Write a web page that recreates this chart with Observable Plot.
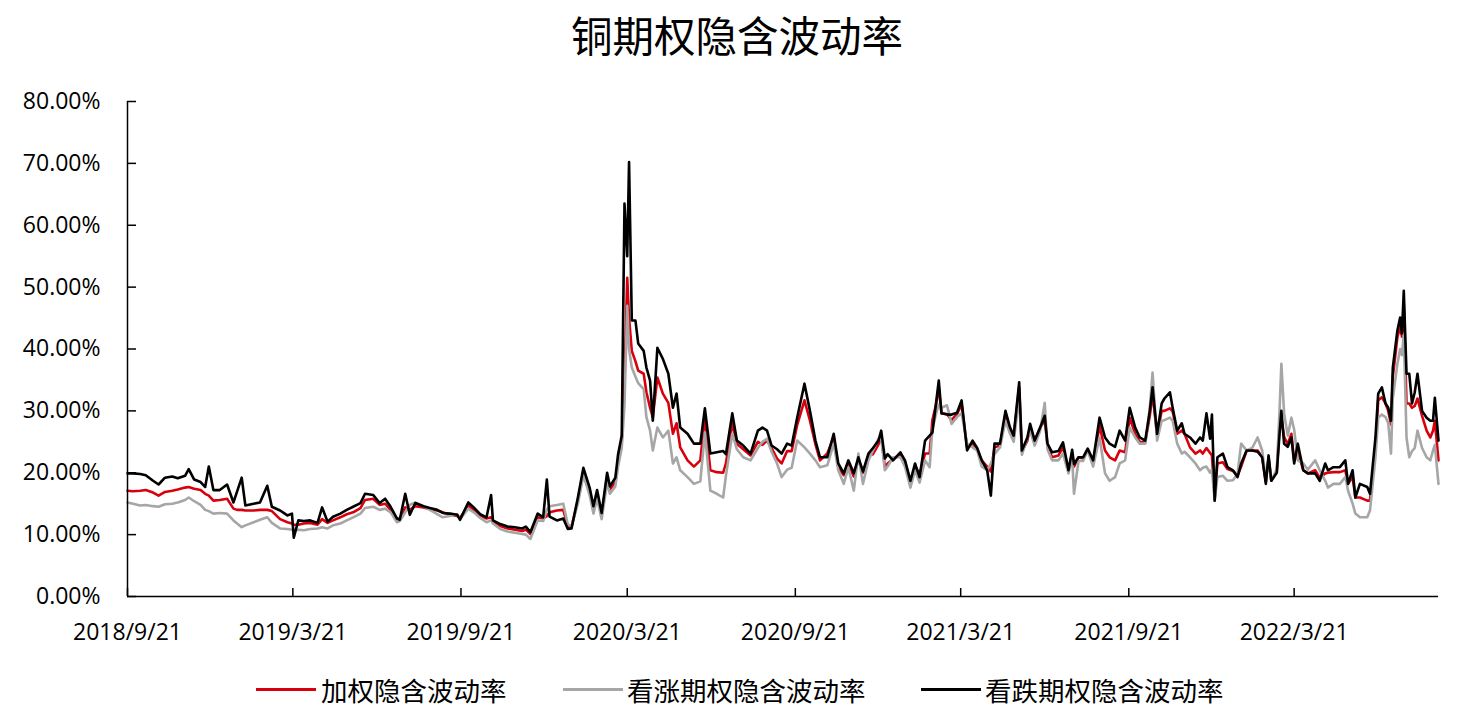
<!DOCTYPE html>
<html>
<head>
<meta charset="utf-8">
<script src="https://cdn.jsdelivr.net/npm/d3@7"></script>
<script src="https://cdn.jsdelivr.net/npm/@observablehq/plot@0.6"></script>
<style>
  html, body { margin: 0; padding: 0; background: #fff; }
  body { width: 1464px; height: 711px; position: relative; overflow: hidden; }
  #title { position: absolute; top: 14px; left: 5px; width: 1464px; text-align: center;
           font-family: "Noto Sans CJK SC", sans-serif; font-size: 41.5px; line-height: 1; color: #000; }
  #chart { position: absolute; top: 80px; left: 0; }
  .lg-line { position: absolute; top: 688px; width: 60px; height: 3px; }
  .lg-text { position: absolute; top: 676px; height: 28px; line-height: 28px;
             font-family: "Noto Sans CJK SC", sans-serif; font-size: 26.5px; color: #000; white-space: nowrap; }
</style>
</head>
<body>
<div id="title">铜期权隐含波动率</div>
<div id="chart"></div>
<div id="legend"></div>
<script>
const seriesNames = ["加权隐含波动率", "看涨期权隐含波动率", "看跌期权隐含波动率"];
const seriesColors = ["#d9000d", "#a6a6a6", "#000000"];
const yTicks = [0, 10, 20, 30, 40, 50, 60, 70, 80];
const xTicks = ["2018-09-21","2019-03-21","2019-09-21","2020-03-21","2020-09-21","2021-03-21","2021-09-21","2022-03-21"];
const xDomain = ["2018-09-21", "2022-08-26"];

const dates = [
"2018-09-21","2018-09-27","2018-10-05","2018-10-11","2018-10-19","2018-10-25","2018-11-01","2018-11-09","2018-11-15","2018-11-23",
"2018-11-27","2018-12-03","2018-12-10","2018-12-15","2018-12-19","2018-12-24","2018-12-31","2019-01-08","2019-01-15","2019-01-19",
"2019-01-24","2019-01-28","2019-02-06","2019-02-13","2019-02-21","2019-02-26","2019-03-07","2019-03-15","2019-03-20","2019-03-22",
"2019-03-27","2019-04-02","2019-04-09","2019-04-17","2019-04-22","2019-04-28","2019-05-04","2019-05-12","2019-05-19","2019-05-26",
"2019-06-03","2019-06-08","2019-06-17","2019-06-24","2019-06-30","2019-07-06","2019-07-13","2019-07-16","2019-07-22","2019-07-27",
"2019-08-02","2019-08-11","2019-08-18","2019-08-26","2019-09-01","2019-09-09","2019-09-17","2019-09-20","2019-09-29","2019-10-05",
"2019-10-12","2019-10-19","2019-10-24","2019-10-26","2019-11-03","2019-11-11","2019-11-19","2019-11-27","2019-12-01","2019-12-06",
"2019-12-14","2019-12-20","2019-12-24","2019-12-27","2020-01-04","2020-01-11","2020-01-16","2020-01-20","2020-01-27","2020-02-02",
"2020-02-09","2020-02-13","2020-02-17","2020-02-22","2020-02-28","2020-03-02","2020-03-08","2020-03-11","2020-03-15","2020-03-18",
"2020-03-21","2020-03-23","2020-03-26","2020-03-30","2020-04-02","2020-04-08","2020-04-11","2020-04-15","2020-04-18","2020-04-23",
"2020-04-29","2020-05-05","2020-05-10","2020-05-14","2020-05-18","2020-05-26","2020-06-02","2020-06-09","2020-06-14","2020-06-20",
"2020-06-27","2020-07-04","2020-07-07","2020-07-14","2020-07-19","2020-07-26","2020-08-03","2020-08-11","2020-08-16","2020-08-21",
"2020-08-26","2020-09-01","2020-09-06","2020-09-12","2020-09-17","2020-09-23","2020-10-01","2020-10-07","2020-10-13","2020-10-18",
"2020-10-26","2020-11-02","2020-11-07","2020-11-13","2020-11-18","2020-11-24","2020-11-29","2020-12-04","2020-12-10","2020-12-15",
"2020-12-21","2020-12-24","2020-12-28","2020-12-31","2021-01-06","2021-01-14","2021-01-19","2021-01-25","2021-01-30","2021-02-04",
"2021-02-10","2021-02-15","2021-02-18","2021-02-22","2021-02-25","2021-02-28","2021-03-06","2021-03-11","2021-03-17","2021-03-22",
"2021-03-28","2021-04-03","2021-04-08","2021-04-13","2021-04-19","2021-04-23","2021-04-27","2021-05-03","2021-05-09","2021-05-14",
"2021-05-18","2021-05-24","2021-05-27","2021-06-02","2021-06-05","2021-06-10","2021-06-16","2021-06-21","2021-06-24","2021-06-29",
"2021-07-06","2021-07-11","2021-07-17","2021-07-21","2021-07-23","2021-07-28","2021-08-02","2021-08-07","2021-08-13","2021-08-20",
"2021-08-26","2021-08-31","2021-09-06","2021-09-11","2021-09-17","2021-09-22","2021-09-28","2021-10-03","2021-10-09","2021-10-14",
"2021-10-17","2021-10-22","2021-10-27","2021-10-30","2021-11-05","2021-11-08","2021-11-13","2021-11-18","2021-11-21","2021-11-27",
"2021-12-03","2021-12-08","2021-12-11","2021-12-15","2021-12-19","2021-12-21","2021-12-24","2021-12-27","2022-01-02","2022-01-07",
"2022-01-13","2022-01-18","2022-01-22","2022-01-28","2022-02-03","2022-02-09","2022-02-14","2022-02-18","2022-02-21","2022-02-24",
"2022-03-02","2022-03-05","2022-03-07","2022-03-10","2022-03-14","2022-03-18","2022-03-21","2022-03-25","2022-03-31","2022-04-05",
"2022-04-13","2022-04-18","2022-04-24","2022-04-27","2022-05-03","2022-05-10","2022-05-16","2022-05-19","2022-05-24","2022-05-27",
"2022-06-01","2022-06-09","2022-06-12","2022-06-18","2022-06-21","2022-06-25","2022-06-29","2022-07-02","2022-07-05","2022-07-07",
"2022-07-12","2022-07-15","2022-07-17","2022-07-19","2022-07-22","2022-07-25","2022-07-28","2022-07-31","2022-08-03","2022-08-08",
"2022-08-13","2022-08-17","2022-08-20","2022-08-22","2022-08-26"
];

// 加权隐含波动率 (%)
const weighted = [
17.1,17.0,17.1,17.2,16.8,16.3,16.9,17.1,17.3,17.6,
17.7,17.4,17.2,16.6,16.3,15.5,15.6,15.8,14.2,14.0,
14.0,13.9,13.9,14.0,14.0,13.8,12.5,12.0,11.8,11.6,
11.6,11.8,11.9,11.6,12.5,11.9,12.3,12.8,13.3,13.6,
14.3,15.6,15.8,14.8,15.0,14.0,12.5,12.6,14.4,14.0,
14.6,14.4,14.1,13.9,13.6,13.2,13.0,12.7,14.7,14.0,
13.1,12.6,12.8,12.2,11.4,11.0,10.8,10.6,10.8,10.1,
12.8,12.6,13.0,13.6,13.9,14.0,11.3,11.2,15.5,20.2,
17.0,14.2,16.6,13.2,19.3,17.3,18.5,22.0,25.0,35.0,
51.5,45.0,39.7,38.0,36.5,36.0,33.0,30.5,29.0,35.4,
32.8,31.3,26.3,28.0,24.1,22.0,21.0,22.0,29.0,20.4,
20.1,20.0,21.5,28.0,24.7,23.8,22.8,25.0,24.5,25.2,
24.0,22.3,21.5,23.5,23.5,27.7,31.7,28.4,24.6,22.0,
23.1,25.8,20.9,19.6,21.5,19.4,22.2,20.0,22.8,23.0,
24.6,26.0,20.9,21.5,22.2,23.0,21.8,18.5,21.0,19.8,
23.1,23.1,28.5,31.0,33.8,29.6,29.5,28.5,29.5,31.0,
24.1,24.7,23.9,22.0,21.0,20.2,24.1,24.4,29.4,26.8,
25.8,33.8,23.4,25.2,27.3,25.2,27.3,28.5,24.4,22.5,
22.8,24.1,20.4,23.2,21.0,22.5,22.3,23.7,21.8,27.6,
23.6,22.5,22.0,23.6,23.3,28.9,26.3,25.0,24.9,29.2,
32.8,26.0,30.0,30.0,30.4,29.9,26.3,26.8,26.3,24.1,
23.1,23.6,23.1,24.0,23.2,22.8,15.8,21.5,21.7,20.6,
20.3,19.5,21.0,23.6,23.6,23.6,22.5,18.5,22.5,18.7,
20.2,27.3,29.0,25.8,24.6,26.3,22.0,23.5,20.4,19.9,
20.4,19.2,19.9,20.0,20.1,20.1,20.4,18.2,19.3,16.0,
16.0,15.5,15.5,24.0,31.7,32.2,31.2,30.0,27.8,35.5,
41.9,43.5,42.0,47.3,31.2,31.2,30.5,30.8,32.0,29.2,
26.8,25.7,26.8,28.4,22.0
];

// 看涨期权隐含波动率 (%)
const callIV = [
15.2,15.0,14.7,14.8,14.6,14.5,14.9,15.0,15.2,15.6,
16.0,15.4,14.8,14.0,13.8,13.4,13.5,13.4,12.3,11.8,
11.2,11.5,12.0,12.4,12.8,11.9,11.0,10.9,10.8,10.7,
10.8,10.7,10.9,11.0,11.2,11.0,11.5,11.8,12.3,12.8,
13.4,14.3,14.5,14.0,14.2,13.6,12.0,12.2,13.6,14.8,
15.2,14.6,14.0,13.3,12.8,13.0,13.3,12.5,14.2,13.6,
12.7,12.0,12.3,11.8,10.9,10.5,10.3,10.1,10.0,9.3,
12.3,12.2,14.0,14.6,14.8,15.0,11.6,11.4,15.0,19.6,
16.3,13.4,15.8,12.5,18.4,16.6,17.8,21.0,24.0,31.0,
47.0,40.0,37.0,35.5,34.5,33.5,29.0,26.8,23.6,27.3,
25.7,26.8,21.5,22.5,20.4,19.3,18.2,18.6,26.5,17.1,
16.6,16.0,19.5,26.3,23.8,22.5,22.0,24.0,25.0,25.5,
23.4,21.5,19.3,20.5,20.8,25.2,24.1,23.1,22.0,20.9,
21.2,24.7,20.4,18.2,20.9,17.1,23.1,18.2,22.0,23.6,
25.5,25.5,20.4,21.0,22.5,22.5,21.0,17.6,20.4,18.4,
22.0,20.9,27.0,29.5,31.0,30.5,30.9,27.9,29.0,29.6,
24.7,24.1,23.6,21.0,20.4,21.5,23.0,24.1,28.4,26.3,
25.0,32.2,22.9,25.7,26.8,24.4,26.8,31.3,23.8,22.0,
22.0,23.1,19.9,22.5,16.6,21.9,21.9,23.6,21.0,25.7,
19.9,18.7,19.3,21.5,22.0,27.3,25.7,24.7,24.7,30.5,
36.2,25.2,28.4,28.5,28.9,28.4,24.7,23.1,23.4,22.5,
21.5,20.4,20.8,21.0,20.0,20.6,15.5,19.3,19.5,18.7,
18.8,19.8,24.7,23.6,24.0,25.7,23.6,19.0,22.0,18.7,
20.6,30.0,37.6,29.6,26.0,28.9,27.0,22.0,21.5,20.5,
22.0,20.4,18.7,17.6,18.2,18.2,19.3,17.1,15.0,13.4,
12.8,12.8,13.9,22.5,28.9,29.4,29.0,28.0,23.1,32.0,
37.6,40.0,39.0,42.5,25.7,22.5,23.5,24.0,26.8,24.0,
22.5,22.0,23.6,24.5,18.2
];

// 看跌期权隐含波动率 (%)
const putIV = [
19.9,19.9,19.8,19.6,18.7,18.1,19.2,19.4,19.1,19.5,
20.6,18.9,18.5,17.7,21.0,17.2,17.2,18.1,15.2,17.0,
19.2,14.7,15.0,15.2,17.9,14.5,13.9,13.1,13.4,9.5,
12.3,12.2,12.3,11.9,14.4,12.1,12.9,13.4,14.0,14.5,
15.1,16.6,16.4,15.1,15.8,14.5,12.6,12.4,16.6,13.2,
15.1,14.6,14.3,14.0,13.5,13.4,13.2,12.4,15.2,14.4,
13.3,12.8,16.4,12.3,11.7,11.3,11.2,11.0,11.3,10.4,
13.4,12.8,18.9,12.9,12.3,12.6,10.9,11.0,16.0,20.8,
17.5,14.6,17.2,13.5,20.0,17.8,19.2,23.0,26.0,63.5,
55.0,70.2,44.6,44.6,40.9,39.7,37.0,34.9,28.4,40.2,
38.4,36.0,30.5,32.8,27.3,26.3,24.7,24.7,30.4,23.1,
23.3,23.5,23.0,29.6,25.2,24.4,23.1,26.8,27.3,26.8,
24.4,23.8,23.1,24.7,24.4,28.9,34.4,30.0,25.2,22.5,
22.5,26.3,21.5,19.9,22.0,19.9,22.5,20.2,23.1,24.0,
25.2,26.8,22.3,23.0,22.0,23.3,22.0,18.7,21.5,19.3,
25.2,26.0,26.5,31.2,34.9,29.6,29.4,29.4,29.7,31.7,
23.6,25.2,24.0,22.0,20.4,16.3,24.7,24.7,30.0,27.3,
26.0,34.6,23.6,25.7,27.9,25.2,27.3,29.2,24.7,23.3,
23.5,24.9,20.4,23.7,21.4,22.5,22.5,23.9,22.0,28.9,
25.7,24.7,24.2,26.8,25.2,30.5,27.3,25.7,25.2,30.0,
33.8,26.3,31.2,32.0,33.0,30.5,26.8,28.0,26.3,25.7,
24.7,25.7,25.2,29.6,25.5,29.4,15.5,22.5,23.1,20.9,
20.4,19.3,21.5,23.6,23.6,23.4,22.5,18.2,22.8,18.7,
20.0,26.3,30.0,24.7,24.2,25.7,21.5,24.7,20.4,19.9,
19.9,18.7,21.5,20.4,20.9,20.9,22.0,18.2,20.4,16.0,
18.2,17.7,16.6,25.7,32.8,33.8,31.2,30.5,28.4,37.0,
43.0,45.1,42.5,49.4,36.0,36.0,31.2,33.0,36.0,30.0,
28.9,28.4,28.4,32.1,25.2
];

const parse = d3.utcParse("%Y-%m-%d");
const allSeries = [weighted, callIV, putIV];
const rowsOf = (arr) => dates.map((d, i) => ({date: parse(d), value: arr[i]}));

const chart = Plot.plot({
  width: 1464,
  height: 585,
  marginTop: 21,
  marginBottom: 69,
  marginLeft: 127,
  marginRight: 26,
  style: {fontFamily: "'Open Sans', sans-serif", fontSize: "23px", color: "#000", background: "#fff"},
  x: {type: "utc", domain: xDomain.map(parse)},
  y: {domain: [0, 80]},
  marks: [
    Plot.axisY({ticks: yTicks, tickFormat: (d) => d.toFixed(2) + "%", tickSize: -9, tickPadding: 36, label: null, strokeWidth: 1.5}),
    Plot.axisX({ticks: xTicks.map(parse), tickFormat: d3.utcFormat("%Y/%-m/%-d"), tickSize: -8, tickPadding: 35, label: null, strokeWidth: 1.5}),
    ...allSeries.map((arr, k) => Plot.lineY(rowsOf(arr), {x: "date", y: "value", stroke: seriesColors[k], strokeWidth: 2.6})),
    Plot.ruleY([0], {stroke: "#000", strokeWidth: 1.5}),
    Plot.ruleX([parse(xDomain[0])], {stroke: "#000", strokeWidth: 1.5})
  ]
});
document.getElementById("chart").appendChild(chart);

// legend
const legendLineX = [256, 563, 921];
const legendTextX = [321, 627, 985];
const legend = document.getElementById("legend");
seriesNames.forEach((name, k) => {
  const ln = document.createElement("div");
  ln.className = "lg-line";
  ln.style.left = legendLineX[k] + "px";
  ln.style.background = seriesColors[k];
  legend.appendChild(ln);
  const tx = document.createElement("div");
  tx.className = "lg-text";
  tx.style.left = legendTextX[k] + "px";
  tx.textContent = name;
  legend.appendChild(tx);
});
</script>
</body>
</html>
